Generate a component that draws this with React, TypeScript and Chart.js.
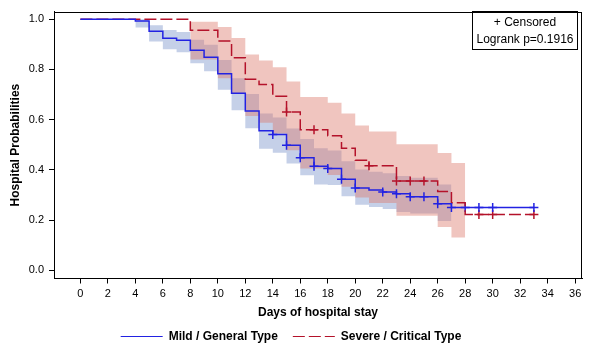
import React, { useEffect, useRef } from 'react';
import { Chart, registerables } from 'chart.js';

Chart.register(...registerables);

// ---- Axis ticks ----
const xTickValues = [0, 2, 4, 6, 8, 10, 12, 14, 16, 18, 20, 22, 24, 26, 28, 30, 32, 34, 36];
const yTickValues = [0, 0.2, 0.4, 0.6, 0.8, 1.0];

// ---- Mild / General Type (Kaplan-Meier steps) ----
const blueTimes = [0, 4, 5, 6, 7, 8, 9, 10, 11, 12, 13, 14, 15, 16, 17, 18, 19, 20, 21, 22, 23, 24, 26, 27, 33];
const blueSurv = [1.0, 0.993, 0.952, 0.924, 0.916, 0.876, 0.848, 0.783, 0.705, 0.634, 0.556, 0.541, 0.498, 0.448, 0.414, 0.405, 0.363, 0.328, 0.320, 0.312, 0.305, 0.293, 0.265, 0.250, 0.250];
const blueBandTimes = [4, 5, 6, 7, 8, 9, 10, 11, 12, 13, 14, 15, 16, 17, 18, 19, 20, 21, 22, 23, 24, 26, 27];
const blueLower = [0.967, 0.911, 0.880, 0.868, 0.824, 0.793, 0.719, 0.637, 0.566, 0.484, 0.468, 0.425, 0.379, 0.342, 0.340, 0.295, 0.261, 0.252, 0.244, 0.232, 0.226, 0.196, 0.196];
const blueUpper = [1.0, 0.976, 0.957, 0.949, 0.918, 0.898, 0.837, 0.765, 0.702, 0.624, 0.608, 0.565, 0.523, 0.486, 0.477, 0.434, 0.401, 0.392, 0.386, 0.376, 0.369, 0.342, 0.342];
const blueCensorTimes = [14, 15, 16, 17, 18, 19, 20, 22, 23, 24, 25, 26, 27, 28, 29, 30, 33];

// ---- Severe / Critical Type ----
const redTimes = [0, 8, 10, 11, 12, 13, 14, 15, 16, 18, 19, 20, 21, 23, 26, 27, 28, 33];
const redSurv = [1.0, 0.956, 0.9125, 0.846, 0.761, 0.740, 0.693, 0.630, 0.560, 0.536, 0.486, 0.438, 0.416, 0.356, 0.314, 0.269, 0.222, 0.222];
const redBandTimes = [8, 10, 11, 12, 13, 14, 15, 16, 18, 19, 20, 21, 23, 26, 27, 28];
const redLower = [0.839, 0.765, 0.706, 0.614, 0.588, 0.545, 0.478, 0.405, 0.380, 0.333, 0.290, 0.268, 0.217, 0.173, 0.131, 0.131];
const redUpper = [0.990, 0.969, 0.925, 0.859, 0.835, 0.808, 0.752, 0.690, 0.667, 0.624, 0.577, 0.553, 0.502, 0.467, 0.427, 0.427];
const redCensorTimes = [15, 17, 21, 23, 24, 25, 29, 30, 33];

const seriesLabels = ['Mild / General Type', 'Severe / Critical Type'];
const insetLines = ['+ Censored', 'Logrank p=0.1916'];

const BLUE = 'rgb(34,34,226)';
const RED = 'rgb(180,18,42)';
const BLUE_BAND = 'rgb(197,208,232)';
const RED_BAND = 'rgba(220,120,106,0.43)';
const RED_DASH = [12, 4];

const FONT = "'Liberation Sans', Arial, sans-serif";

function toPoints(xs: number[], ys: number[]) {
  return xs.map((x, i) => ({ x, y: ys[i] }));
}
function survAt(times: number[], surv: number[], t: number) {
  let v = surv[0];
  for (let i = 0; i < times.length; i++) if (times[i] <= t) v = surv[i];
  return v;
}

const framePlugin = {
  id: 'frameAndInset',
  afterDraw(chart: any) {
    const { ctx, chartArea } = chart;
    ctx.save();
    ctx.strokeStyle = '#000';
    ctx.lineWidth = 1;
    ctx.strokeRect(
      Math.round(chartArea.left) + 0.5,
      Math.round(chartArea.top) + 0.5,
      Math.round(chartArea.right - chartArea.left) - 1,
      Math.round(chartArea.bottom - chartArea.top) - 1
    );
    const bx = 472.5, by = 11.5, bw = 105, bh = 38;
    ctx.strokeRect(bx, by, bw, bh);
    ctx.fillStyle = '#000';
    ctx.font = `12px ${FONT}`;
    ctx.textAlign = 'center';
    ctx.textBaseline = 'middle';
    ctx.fillText(insetLines[0], bx + bw / 2, by + 11.5);
    ctx.fillText(insetLines[1], bx + bw / 2, by + 28.5);
    ctx.restore();
  },
};

export default function App() {
  const ref = useRef<HTMLCanvasElement | null>(null);
  useEffect(() => {
    if (!ref.current) return;
    const lineCommon = { pointRadius: 0, stepped: 'before' as const, fill: false };
    const chart = new Chart(ref.current, {
      type: 'line',
      data: {
        datasets: [
          { label: seriesLabels[0], data: toPoints(blueTimes, blueSurv), borderColor: BLUE, backgroundColor: BLUE, borderWidth: 1.5, ...lineCommon },
          { label: seriesLabels[1], data: toPoints(redTimes, redSurv), borderColor: RED, backgroundColor: RED, borderWidth: 1.5, borderDash: RED_DASH, ...lineCommon },
          {
            label: 'blueCensor',
            data: blueCensorTimes.map((t) => ({ x: t, y: survAt(blueTimes, blueSurv, t) })),
            showLine: false, pointStyle: 'cross', pointRadius: 4.5, pointBorderWidth: 1.5,
            pointBorderColor: BLUE, borderColor: BLUE, fill: false,
          },
          {
            label: 'redCensor',
            data: redCensorTimes.map((t) => ({ x: t, y: survAt(redTimes, redSurv, t) })),
            showLine: false, pointStyle: 'cross', pointRadius: 4.5, pointBorderWidth: 1.5,
            pointBorderColor: RED, borderColor: RED, fill: false,
          },
          { label: 'redLower', data: toPoints(redBandTimes, redLower), borderWidth: 0, borderColor: 'rgba(0,0,0,0)', ...lineCommon },
          { label: 'redUpper', data: toPoints(redBandTimes, redUpper), borderWidth: 0, borderColor: 'rgba(0,0,0,0)', backgroundColor: RED_BAND, pointRadius: 0, stepped: 'before', fill: { target: 4 } },
          { label: 'blueLower', data: toPoints(blueBandTimes, blueLower), borderWidth: 0, borderColor: 'rgba(0,0,0,0)', ...lineCommon },
          { label: 'blueUpper', data: toPoints(blueBandTimes, blueUpper), borderWidth: 0, borderColor: 'rgba(0,0,0,0)', backgroundColor: BLUE_BAND, pointRadius: 0, stepped: 'before', fill: { target: 6 } },
        ] as any,
      },
      options: {
        responsive: false,
        animation: false,
        devicePixelRatio: 1,
        layout: { padding: { left: 0, top: 7, right: 9, bottom: 7.5 } },
        scales: {
          x: {
            type: 'linear',
            min: -1.92,
            max: 36.5,
            afterBuildTicks: (s: any) => { s.ticks = xTickValues.map((v) => ({ value: v })); },
            afterFit: (s: any) => { s.height = 37; },
            ticks: { color: '#000', font: { family: FONT, size: 11 }, padding: 4, autoSkip: false, maxRotation: 0, callback: (v: any) => String(v) },
            grid: { display: true, drawOnChartArea: false, drawTicks: true, tickLength: 5, color: '#000' },
            border: { display: true, color: '#000' },
            title: { display: true, text: 'Days of hospital stay', color: '#000', font: { family: FONT, size: 12, weight: 'bold' }, padding: { top: 0, bottom: -4.4 } },
          },
          y: {
            type: 'linear',
            min: -0.0325,
            max: 1.03,
            afterBuildTicks: (s: any) => { s.ticks = yTickValues.map((v) => ({ value: v })); },
            afterFit: (s: any) => { s.width = 54; },
            ticks: { color: '#000', font: { family: FONT, size: 11 }, padding: 5, callback: (v: any) => Number(v).toFixed(1) },
            grid: { display: true, drawOnChartArea: false, drawTicks: true, tickLength: 5, color: '#000' },
            border: { display: true, color: '#000' },
            title: { display: true, text: 'Hospital Probabilities', color: '#000', font: { family: FONT, size: 12, weight: 'bold' }, padding: { top: 8.5, bottom: 0 } },
          },
        },
        plugins: {
          filler: { propagate: false, drawTime: 'beforeDatasetsDraw' },
          tooltip: { enabled: false },
          legend: {
            display: true,
            position: 'bottom',
            labels: {
              usePointStyle: true,
              pointStyle: 'line',
              pointStyleWidth: 42,
              padding: 15,
              color: '#000',
              font: { family: FONT, size: 12, weight: 'bold' },
              generateLabels: () => [
                { text: seriesLabels[0], datasetIndex: 0, strokeStyle: BLUE, fillStyle: BLUE, lineWidth: 1, lineDash: [], pointStyle: 'line', fontColor: '#000', hidden: false },
                { text: seriesLabels[1], datasetIndex: 1, strokeStyle: RED, fillStyle: RED, lineWidth: 1, lineDash: RED_DASH, pointStyle: 'line', fontColor: '#000', hidden: false },
              ],
            },
          },
        },
      } as any,
      plugins: [framePlugin],
    });
    return () => chart.destroy();
  }, []);
  return (
    <div style={{ position: 'fixed', left: 0, top: 0, width: 591, height: 360, background: '#fff' }}>
      <canvas ref={ref} width={591} height={360} style={{ display: 'block' }} />
    </div>
  );
}
